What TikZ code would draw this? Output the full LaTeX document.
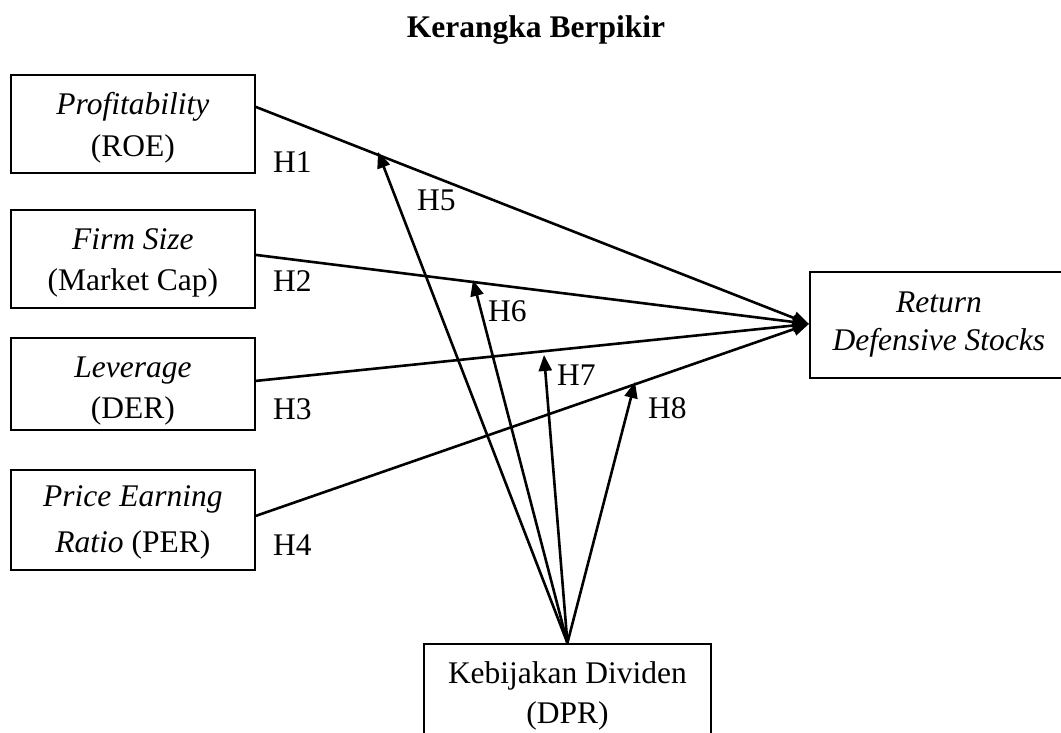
\documentclass[tikz,border=0pt]{standalone}
\usepackage{fontspec}
\setmainfont{Liberation Serif}
\usetikzlibrary{arrows.meta}
\newcommand\boxtxt[2]{\raisebox{0pt}[0pt][#1]{\begin{tabular}[t]{@{}c@{}}#2\end{tabular}}}
\tikzset{
  var/.style={draw, line width=1.8pt, inner sep=0pt, anchor=north west},
  conn/.style={line width=2.6pt, -{Triangle[length=16pt,width=13pt]}},
  hyp/.style={anchor=base west, inner sep=0pt},
}
\begin{document}
\begin{tikzpicture}[x=1pt,y=-1pt,font=\fontsize{31.5}{42}\selectfont]
\useasboundingbox (0,0) rectangle (1061,733);
\clip (0,0) rectangle (1061,733);
\node[anchor=base, font=\fontsize{31.5}{42}\selectfont\bfseries] (title) at (536,38) {Kerangka Berpikir};
% variable boxes
\node[var, minimum width=244pt, minimum height=98pt] (roe) at (10,74)
  {\boxtxt{18pt}{\textit{Profitability}\\(ROE)}};
\node[var, minimum width=244pt, minimum height=98pt] (size) at (10,209)
  {\boxtxt{18pt}{\textit{Firm Size}\\[-1pt](Market Cap)}};
\node[var, minimum width=244pt, minimum height=92pt] (der) at (10,337)
  {\boxtxt{12pt}{\textit{Leverage}\\[-1pt](DER)}};
\node[var, minimum width=244pt, minimum height=100pt] (per) at (10,469)
  {\boxtxt{26pt}{\textit{Price Earning}\\[4pt]\textit{Ratio} (PER)}};
\node[var, minimum width=258pt, minimum height=106pt] (ret) at (809,271)
  {\boxtxt{24pt}{\textit{Return}\\[-4pt]\textit{Defensive Stocks}}};
\node[var, minimum width=287pt, minimum height=98pt] (dpr) at (423,643)
  {\boxtxt{18pt}{Kebijakan Dividen\\[-2pt](DPR)}};
% direct effects
\draw[conn] ([yshift=17pt]roe.east) -- ([yshift=1pt]ret.west);
\draw[conn] ([yshift=4pt]size.east) -- ([yshift=1pt]ret.west);
\draw[conn] ([yshift=3pt]der.east) -- ([yshift=1pt]ret.west);
\draw[conn] ([yshift=4pt]per.east) -- ([yshift=1pt]ret.west);
% moderation
\coordinate (m5) at (378,152);
\coordinate (m6) at (473,280);
\coordinate (m7) at (544,355);
\coordinate (m8) at (635,382);
\draw[conn] (dpr.north) -- (m5);
\draw[conn] (dpr.north) -- (m6);
\draw[conn] (dpr.north) -- (m7);
\draw[conn] (dpr.north) -- (m8);
% labels
\node[hyp] (h1) at (273,173) {H1};
\node[hyp] (h2) at (273,291) {H2};
\node[hyp] (h3) at (273,419) {H3};
\node[hyp] (h4) at (273,555) {H4};
\node[hyp] (h5) at (417,211) {H5};
\node[hyp] (h6) at (488,321) {H6};
\node[hyp] (h7) at (557,385) {H7};
\node[hyp] (h8) at (648,418) {H8};
\end{tikzpicture}
\end{document}
